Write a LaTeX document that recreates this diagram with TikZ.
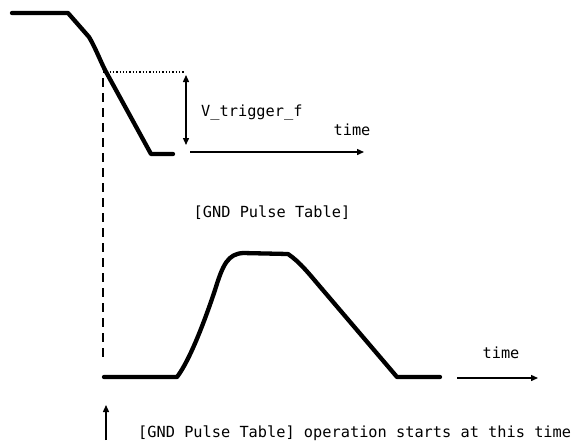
\documentclass[tikz,border=0pt]{standalone}
\usepackage{fontspec}
\setmonofont{DejaVu Sans Mono}
\usetikzlibrary{arrows.meta}
\begin{document}
\begin{tikzpicture}[x=1pt,y=-1pt,
  wave/.style={line width=4.3pt,line join=round,line cap=round},
  axisarrow/.style={line width=1.4pt,-{Triangle[length=7pt,width=6pt]}},
  dblarrow/.style={line width=1.4pt,{Triangle[length=7pt,width=6pt]}-{Triangle[length=7pt,width=6pt]}},
  lbl/.style={font=\ttfamily\fontsize{15.3}{18}\selectfont,inner sep=0pt}]
\useasboundingbox (0,0) rectangle (575,445);
% top waveform
\coordinate (t0) at (12,13);
\coordinate (t1) at (68,13);
\coordinate (t2) at (89,37);
\coordinate (t3) at (151,154);
\coordinate (t4) at (173,154);
\draw[wave] (t0) -- (t1) -- (t2) .. controls (95,47) and (100,60) .. (105,70) -- (t3) -- (t4);
% trigger level
\coordinate (d0) at (103,72);
\coordinate (d1) at (185,72);
\draw[line width=1.3pt,dotted] (d0) -- (d1);
\coordinate (va) at (186,75);
\coordinate (vb) at (186,145);
\draw[dblarrow] (va) -- (vb);
\node[lbl,anchor=west] (vtf) at (201,112) {V\_trigger\_f};
% top time axis
\coordinate (ta0) at (190,152);
\coordinate (ta1) at (364,152);
\draw[axisarrow] (ta0) -- (ta1);
\node[lbl] (time1) at (352,130) {time};
% caption
\node[lbl] (cap) at (272,213) {[GND Pulse Table]};
% dashed vertical
\coordinate (v0) at (103,78);
\coordinate (v1) at (103,358);
\draw[line width=1.5pt,dash pattern=on 9pt off 6pt] (v0) -- (v1);
% bottom waveform
\coordinate (b0) at (104,377);
\coordinate (b1) at (177,377);
\coordinate (b2) at (243,253);
\coordinate (b3) at (288,254);
\coordinate (b4) at (397,377);
\coordinate (b5) at (440,377);
\draw[wave] (b0) -- (b1) .. controls (190,360) and (205,320) .. (215,290)
  .. controls (223,264) and (228,254) .. (b2) -- (b3)
  .. controls (300,262) and (310,275) .. (322,289) -- (b4) -- (b5);
% bottom time axis
\coordinate (tb0) at (457,378);
\coordinate (tb1) at (538,378);
\draw[axisarrow] (tb0) -- (tb1);
\node[lbl] (time2) at (501,353) {time};
% start marker
\coordinate (s0) at (106,440);
\coordinate (s1) at (106,405);
\draw[axisarrow] (s0) -- (s1);
\node[lbl,anchor=west] (note) at (138,433) {[GND Pulse Table] operation starts at this time};
\end{tikzpicture}
\end{document}
